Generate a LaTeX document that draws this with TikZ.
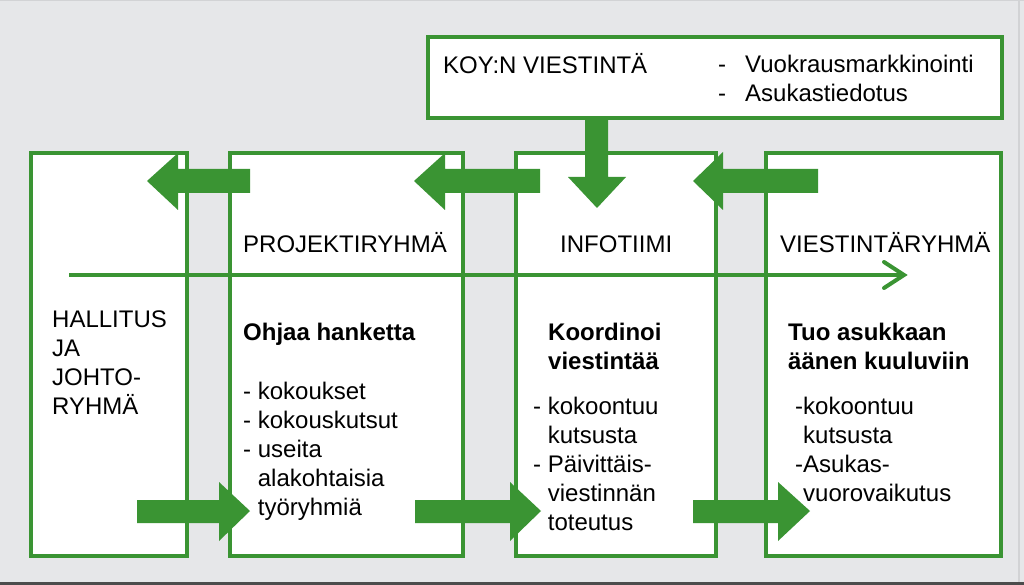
\documentclass[tikz,border=0pt]{standalone}
\usepackage{fontspec}
\setmainfont{Liberation Sans}
\definecolor{grn}{HTML}{3A9433}
\definecolor{bg}{HTML}{E6E7E9}
\definecolor{edge}{HTML}{D2D3D5}
\begin{document}
\begin{tikzpicture}[x=1pt,y=-1pt,
  panel/.style={draw=grn,line width=4pt,fill=white},
  blk/.style={fill=grn,draw=none},
  txt/.style={inner sep=0pt,anchor=base west,align=left,font=\fontsize{24}{29}\selectfont},
  btxt/.style={txt,font=\fontsize{24}{29}\selectfont\bfseries}]
\useasboundingbox (0,0) rectangle (1024,585);
\fill[bg] (0,0) rectangle (1024,585);
\fill[edge] (0,0) rectangle (1024,1.5);
\fill[edge] (1018,0) rectangle (1019.5,585);
\fill[black!70] (0,582) rectangle (1024,585);
% panels
\draw[panel] (428,37) rectangle (1002,118);
\draw[panel] (31,153) rectangle (187,556);
\draw[panel] (230,153) rectangle (463,556);
\draw[panel] (516,153) rectangle (716,556);
\draw[panel] (766,153) rectangle (1001,556);
% timeline
\draw[grn,line width=4pt] (69,275) -- (903,275);
\draw[grn,line width=4pt,line cap=round,line join=miter] (884,262) -- (904,275) -- (884,288);
% left block arrows
\fill[blk] (147,181) -- (178,153) -- (178,169) -- (250,169) -- (250,193) -- (178,193) -- (178,210) -- cycle;
\fill[blk] (414,181) -- (445,153) -- (445,169) -- (540,169) -- (540,193) -- (445,193) -- (445,210) -- cycle;
\fill[blk] (693,181) -- (723,152) -- (723,169) -- (818,169) -- (818,193) -- (723,193) -- (723,210) -- cycle;
% down arrow
\fill[blk] (585,118) -- (608,118) -- (608,177) -- (626,177) -- (597,208) -- (568,177) -- (585,177) -- cycle;
% bottom right arrows
\fill[blk] (137,500) -- (219,500) -- (219,482) -- (250,511) -- (219,541) -- (219,523) -- (137,523) -- cycle;
\fill[blk] (415,500) -- (510,500) -- (510,482) -- (541,511) -- (510,541) -- (510,523) -- (415,523) -- cycle;
\fill[blk] (693,500) -- (778,500) -- (778,482) -- (810,511) -- (778,541) -- (778,523) -- (693,523) -- cycle;
% texts (base anchor = baseline of last line)
\node[txt] (koy) at (443,74) {KOY:N VIESTINTÄ};
\node[txt] (dsh) at (718,102) {-\\-};
\node[txt] (koyl) at (745,102) {Vuokrausmarkkinointi\\Asukastiedotus};
\node[txt] (hall) at (52,414) {HALLITUS\\JA\\JOHTO-\\RYHMÄ};
\node[txt] (proj) at (243,252) {PROJEKTIRYHMÄ};
\node[txt] (info) at (560,252) {INFOTIIMI};
\node[txt] (vies) at (780,252) {VIESTINTÄRYHMÄ};
\node[btxt] (projh) at (243,340) {Ohjaa hanketta};
\node[txt] (projl) at (243,515) {- kokoukset\\- kokouskutsut\\- useita\\\phantom{- }alakohtaisia\\\phantom{- }työryhmiä};
\node[btxt] (infoh) at (548,369) {Koordinoi\\viestintää};
\node[txt] (infol) at (533,530) {- kokoontuu\\\phantom{- }kutsusta\\- Päivittäis-\\\phantom{- }viestinnän\\\phantom{- }toteutus};
\node[btxt] (viesh) at (788,369) {Tuo asukkaan\\äänen kuuluviin};
\node[txt] (viesl) at (795,501) {-kokoontuu\\\phantom{-}kutsusta\\-Asukas-\\\phantom{-}vuorovaikutus};
\end{tikzpicture}
\end{document}
